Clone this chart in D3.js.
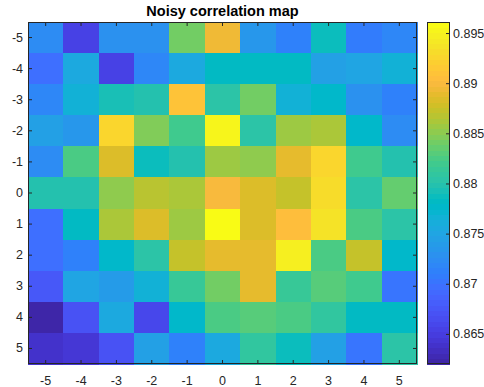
<!DOCTYPE html>
<html>
<head>
<meta charset="utf-8">
<script src="https://cdn.jsdelivr.net/npm/d3@7/dist/d3.min.js"></script>
<style>
  html, body { margin: 0; padding: 0; background: #fff; }
  svg { display: block; font-family: "Liberation Sans", Arial, Helvetica, sans-serif; }
</style>
</head>
<body>
<svg id="chart" width="484" height="387"></svg>
<script>
// Grid coordinates
const xValues = [-5, -4, -3, -2, -1, 0, 1, 2, 3, 4, 5];
const yValues = [-5, -4, -3, -2, -1, 0, 1, 2, 3, 4, 5];

// Correlation values, one row per y (top to bottom), one column per x
const rowM5 = [0.8724, 0.8655, 0.8729, 0.8729, 0.8841, 0.8895, 0.8735, 0.8713, 0.8788, 0.8708, 0.8719];
const rowM4 = [0.8697, 0.8756, 0.8655, 0.8719, 0.8756, 0.8783, 0.8783, 0.8783, 0.8745, 0.8751, 0.8767];
const rowM3 = [0.8719, 0.8767, 0.8793, 0.8799, 0.8911, 0.8804, 0.8841, 0.8767, 0.8777, 0.8729, 0.8713];
const rowM2 = [0.8745, 0.8735, 0.8927, 0.8847, 0.8820, 0.8953, 0.8804, 0.8857, 0.8863, 0.8777, 0.8724];
const rowM1 = [0.8724, 0.8825, 0.8884, 0.8788, 0.8799, 0.8857, 0.8852, 0.8889, 0.8927, 0.8820, 0.8799];
const row0  = [0.8799, 0.8799, 0.8852, 0.8868, 0.8863, 0.8900, 0.8884, 0.8873, 0.8932, 0.8804, 0.8836];
const rowP1 = [0.8697, 0.8783, 0.8863, 0.8884, 0.8857, 0.8961, 0.8884, 0.8905, 0.8937, 0.8825, 0.8804];
const rowP2 = [0.8697, 0.8713, 0.8777, 0.8804, 0.8873, 0.8889, 0.8889, 0.8948, 0.8825, 0.8873, 0.8777];
const rowP3 = [0.8676, 0.8751, 0.8740, 0.8767, 0.8815, 0.8841, 0.8889, 0.8815, 0.8831, 0.8820, 0.8703];
const rowP4 = [0.8620, 0.8671, 0.8756, 0.8660, 0.8777, 0.8825, 0.8831, 0.8825, 0.8809, 0.8783, 0.8783];
const rowP5 = [0.8639, 0.8644, 0.8671, 0.8745, 0.8713, 0.8756, 0.8809, 0.8788, 0.8745, 0.8703, 0.8804];
const rows = [rowM5, rowM4, rowM3, rowM2, rowM1, row0, rowP1, rowP2, rowP3, rowP4, rowP5];

// Colour bar tick values and labels
const cbarTicks = [0.865, 0.87, 0.875, 0.88, 0.885, 0.89, 0.895];
const cbarLabels = ["0.865", "0.87", "0.875", "0.88", "0.885", "0.89", "0.895"];

const titleText = "Noisy correlation map";

// 64-step parula colormap
const parula = [
  [0.2422,0.1504,0.6603],[0.2504,0.1650,0.7076],[0.2578,0.1818,0.7511],[0.2647,0.1978,0.7952],
  [0.2706,0.2147,0.8364],[0.2751,0.2342,0.8710],[0.2783,0.2559,0.8991],[0.2803,0.2782,0.9221],
  [0.2813,0.3006,0.9414],[0.2810,0.3228,0.9579],[0.2795,0.3447,0.9717],[0.2760,0.3667,0.9829],
  [0.2699,0.3892,0.9906],[0.2602,0.4123,0.9952],[0.2440,0.4358,0.9988],[0.2206,0.4603,0.9973],
  [0.1963,0.4847,0.9892],[0.1834,0.5074,0.9798],[0.1786,0.5289,0.9682],[0.1764,0.5499,0.9520],
  [0.1687,0.5703,0.9359],[0.1540,0.5902,0.9218],[0.1460,0.6091,0.9079],[0.1380,0.6276,0.8973],
  [0.1248,0.6459,0.8883],[0.1113,0.6635,0.8763],[0.0952,0.6798,0.8598],[0.0689,0.6948,0.8394],
  [0.0297,0.7082,0.8163],[0.0036,0.7203,0.7917],[0.0067,0.7312,0.7660],[0.0433,0.7411,0.7394],
  [0.0964,0.7500,0.7120],[0.1408,0.7584,0.6842],[0.1717,0.7670,0.6554],[0.1938,0.7758,0.6251],
  [0.2161,0.7843,0.5923],[0.2470,0.7918,0.5567],[0.2906,0.7973,0.5188],[0.3406,0.8008,0.4789],
  [0.3909,0.8029,0.4354],[0.4456,0.8024,0.3909],[0.5044,0.7993,0.3480],[0.5616,0.7942,0.3045],
  [0.6174,0.7876,0.2612],[0.6720,0.7793,0.2227],[0.7242,0.7698,0.1910],[0.7738,0.7598,0.1646],
  [0.8203,0.7498,0.1535],[0.8634,0.7406,0.1596],[0.9035,0.7330,0.1774],[0.9393,0.7288,0.2100],
  [0.9728,0.7298,0.2394],[0.9956,0.7434,0.2371],[0.9970,0.7659,0.2199],[0.9952,0.7893,0.2028],
  [0.9892,0.8136,0.1885],[0.9786,0.8386,0.1766],[0.9676,0.8639,0.1643],[0.9610,0.8890,0.1537],
  [0.9597,0.9135,0.1423],[0.9628,0.9373,0.1265],[0.9691,0.9606,0.1064],[0.9769,0.9839,0.0805]
].map(c => d3.rgb(c[0] * 255, c[1] * 255, c[2] * 255).formatHex());

const axisColor = "#262626";
const plot = { left: 28, right: 417, top: 22, bottom: 364 };
const cbar = { left: 427, right: 450, top: 22, bottom: 364 };

const svg = d3.select("#chart");

// Flatten the grid into cells
const cells = [];
rows.forEach((row, i) => row.forEach((v, j) => cells.push({ x: xValues[j], y: yValues[i], v })));

const cExtent = d3.extent(cells, d => d.v);
// Discrete colour lookup: the value range is split into 64 equal bins
const binScale = d3.scaleQuantize().domain(cExtent).range(d3.range(parula.length));
const color = v => parula[binScale(v)];

const x = d3.scaleBand().domain(xValues).range([plot.left, plot.right]);
const y = d3.scaleBand().domain(yValues).range([plot.top, plot.bottom]);

// Heatmap cells
svg.append("g")
  .selectAll("rect")
  .data(cells)
  .join("rect")
  .attr("x", d => x(d.x))
  .attr("y", d => y(d.y))
  .attr("width", x.bandwidth() + 0.5)
  .attr("height", y.bandwidth() + 0.5)
  .attr("fill", d => color(d.v))
  .attr("shape-rendering", "crispEdges");

// Axes with inward ticks on all four sides
function styleAxis(g) {
  g.select(".domain").remove();
  g.selectAll(".tick line").attr("stroke", axisColor).attr("stroke-width", 1);
  g.selectAll("text").attr("fill", axisColor).attr("font-size", 12.5).attr("font-family", null);
}
const tickLen = 4;
svg.append("g")
  .attr("transform", `translate(0,${plot.bottom})`)
  .call(d3.axisBottom(x).tickSizeInner(-tickLen).tickSizeOuter(0).tickPadding(12.5))
  .call(styleAxis);
svg.append("g")
  .attr("transform", `translate(0,${plot.top})`)
  .call(d3.axisTop(x).tickSizeInner(-tickLen).tickSizeOuter(0).tickFormat(""))
  .call(styleAxis);
svg.append("g")
  .attr("transform", `translate(${plot.left},0)`)
  .call(d3.axisLeft(y).tickSizeInner(-tickLen).tickSizeOuter(0).tickPadding(5))
  .call(styleAxis);
svg.append("g")
  .attr("transform", `translate(${plot.right},0)`)
  .call(d3.axisRight(y).tickSizeInner(-tickLen).tickSizeOuter(0).tickFormat(""))
  .call(styleAxis);

// Axes box
svg.append("rect")
  .attr("x", plot.left + 0.5).attr("y", plot.top + 0.5)
  .attr("width", plot.right - plot.left - 1).attr("height", plot.bottom - plot.top - 1)
  .attr("fill", "none").attr("stroke", axisColor).attr("stroke-width", 1);

// Title
svg.append("text")
  .attr("x", (plot.left + plot.right) / 2)
  .attr("y", 16)
  .attr("text-anchor", "middle")
  .attr("font-size", 14.5)
  .attr("font-weight", "bold")
  .attr("fill", "#000")
  .text(titleText);

// Colour bar
const cScale = d3.scaleLinear().domain(cExtent).range([cbar.bottom, cbar.top]);
const bandEdges = d3.range(parula.length + 1).map(k => cExtent[0] + (cExtent[1] - cExtent[0]) * k / parula.length);
svg.append("g")
  .selectAll("rect")
  .data(parula)
  .join("rect")
  .attr("x", cbar.left)
  .attr("width", cbar.right - cbar.left)
  .attr("y", (c, k) => cScale(bandEdges[k + 1]))
  .attr("height", (c, k) => cScale(bandEdges[k]) - cScale(bandEdges[k + 1]) + 0.5)
  .attr("fill", c => c)
  .attr("shape-rendering", "crispEdges");

svg.append("g")
  .attr("transform", `translate(${cbar.right},0)`)
  .call(d3.axisRight(cScale).tickValues(cbarTicks)
    .tickFormat((d, i) => cbarLabels[i])
    .tickSizeInner(-tickLen).tickSizeOuter(0).tickPadding(3))
  .call(styleAxis);

svg.append("rect")
  .attr("x", cbar.left + 0.5).attr("y", cbar.top + 0.5)
  .attr("width", cbar.right - cbar.left - 1).attr("height", cbar.bottom - cbar.top - 1)
  .attr("fill", "none").attr("stroke", axisColor).attr("stroke-width", 1);
</script>
</body>
</html>
